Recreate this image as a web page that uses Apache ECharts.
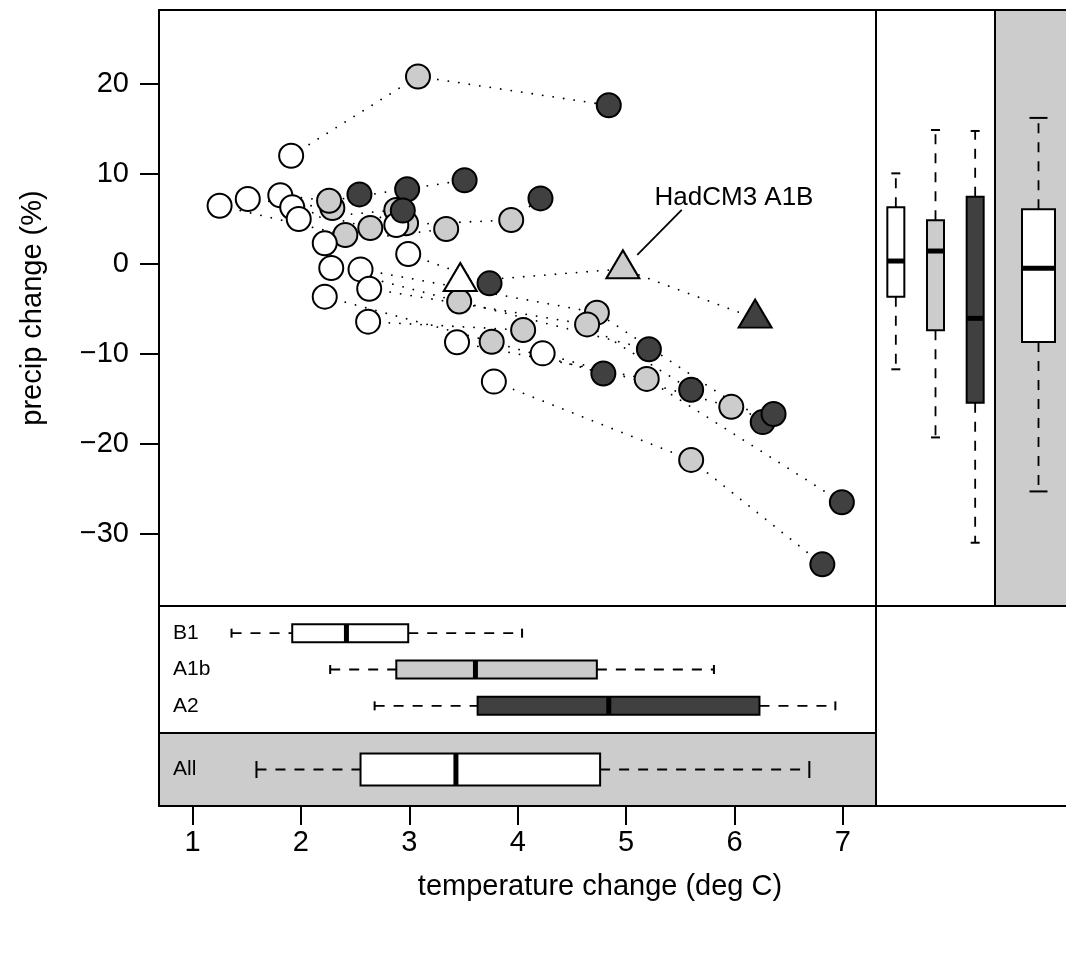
<!DOCTYPE html>
<html>
<head>
<meta charset="utf-8">
<script src="https://cdn.jsdelivr.net/npm/echarts@6/dist/echarts.min.js"></script>
<style>
html,body{margin:0;padding:0;background:#fff;}
#chart{width:1066px;height:962px;}
</style>
</head>
<body>
<div id="chart"></div>
<script>
// ---------- DATA ----------
// per-model values: B1 (white), A1B (grey), A2 (dark); null = not present
const b1Temp   = [1.91, 3.78, 2.88, 2.22, 2.99, 1.25, 1.51, 1.81, 1.92, 1.98, 2.28, 2.55, 2.63, 2.22, 2.62, 3.44, 4.23, null];
const b1Precip = [12.0,-13.1, 4.3, 2.27, 1.08, 6.44, 7.19, 7.6, 6.27, 4.97,-0.48,-0.63,-2.78,-3.66,-6.44,-8.73,-9.96, null];
const a1bTemp   = [3.08, 5.6, 3.94, 3.34, null, 2.41, 2.29, 2.26, 2.64, 2.88, 3.46, 4.73, 4.64, 3.76, 4.05, 5.19, 5.97, 2.97];
const a1bPrecip = [20.8,-21.8, 4.86, 3.86, null, 3.19, 6.19, 7.0, 3.97, 5.97,-4.2,-5.44,-6.74,-8.67,-7.37,-12.8,-15.9, 4.49];
const a2Temp   = [4.84, 6.81, 4.21, null, 3.74, null, 2.54, 3.51, 2.98, 2.94, 5.21, 6.26, 5.6, 4.79, null, 6.99, 6.36, null];
const a2Precip = [17.6,-33.4, 7.26, null,-2.18, null, 7.7, 9.27, 8.27, 5.9,-9.5,-17.6,-14.0,-12.2, null,-26.5,-16.7, null];

// HadCM3 (triangles): B1, A1B, A2
const hadcm3Temp   = [3.47, 4.97, 6.19];
const hadcm3Precip = [-2.0, -0.58, -6.07];
const hadcm3Label = 'HadCM3 A1B';
const labelPos = [5.995, 7.3];
const pointerLine = [[5.103, 0.97], [5.513, 5.97]];

// boxplot summaries [min, q1, median, q3, max]
const scenarioNames = ['B1', 'A1b', 'A2'];
const allName = 'All';
const tempBoxB1  = [1.36, 1.92, 2.42, 2.99, 4.04];
const tempBoxA1b = [2.27, 2.88, 3.61, 4.73, 5.81];
const tempBoxA2  = [2.68, 3.63, 4.84, 6.23, 6.93];
const tempBoxAll = [1.59, 2.55, 3.43, 4.76, 6.69];
const precipBoxB1  = [-11.73, -3.67, 0.3, 6.27, 10.04];
const precipBoxA1b = [-19.3, -7.4, 1.41, 4.82, 14.86];
const precipBoxA2  = [-31.0, -15.44, -6.07, 7.44, 14.75];
const precipBoxAll = [-25.3, -8.7, -0.51, 6.04, 16.2];

const xTicks = [1, 2, 3, 4, 5, 6, 7];
const yTicks = [-30, -20, -10, 0, 10, 20];
const xTitle = 'temperature change (deg C)';
const yTitle = 'precip change (%)';

// ---------- STYLE ----------
const FONT = '"Liberation Sans", Arial, Helvetica, sans-serif';
const WHITE = '#ffffff', GREY = '#cccccc', DARK = '#404040';
const scenFill = [WHITE, GREY, DARK];
const XMIN = 0.691, XMAX = 7.305, YMIN = -38.03, YMAX = 28.19;

const chart = echarts.init(document.getElementById('chart'), null, {renderer: 'canvas'});

function pts(xs, ys) {
  const out = [];
  for (let i = 0; i < xs.length; i++) if (xs[i] != null && ys[i] != null) out.push([xs[i], ys[i]]);
  return out;
}

const dotted = {color: '#000', width: 1.8, type: [0.1, 10.5], cap: 'round'};
const series = [];
// model trajectory lines
for (let i = 0; i < b1Temp.length; i++) {
  const d = pts([b1Temp[i], a1bTemp[i], a2Temp[i]], [b1Precip[i], a1bPrecip[i], a2Precip[i]]);
  if (d.length < 2) continue;
  series.push({type: 'line', xAxisIndex: 0, yAxisIndex: 0, data: d, symbol: 'none', silent: true, z: 2, lineStyle: dotted});
}
series.push({type: 'line', xAxisIndex: 0, yAxisIndex: 0, data: pts(hadcm3Temp, hadcm3Precip), symbol: 'none', silent: true, z: 2, lineStyle: dotted});

const circ = (data, fill, z) => ({type: 'scatter', xAxisIndex: 0, yAxisIndex: 0, data, symbol: 'circle', symbolSize: 24, z, silent: true,
  itemStyle: {color: fill, borderColor: '#000', borderWidth: 2, opacity: 1}});
series.push(circ(pts(a1bTemp, a1bPrecip), GREY, 3));
series.push(circ(pts(b1Temp, b1Precip), WHITE, 4));
series.push(circ(pts(a2Temp, a2Precip), DARK, 5));
series.push({type: 'scatter', xAxisIndex: 0, yAxisIndex: 0, data: pts(hadcm3Temp, hadcm3Precip), symbol: 'triangle',
  symbolSize: [33, 28], symbolOffset: [0, -4.7], z: 6, silent: true,
  itemStyle: {color: p => scenFill[p.dataIndex], borderColor: '#000', borderWidth: 2, opacity: 1}});
// annotation pointer + label
series.push({type: 'line', xAxisIndex: 0, yAxisIndex: 0, data: pointerLine, symbol: 'none', silent: true, z: 6,
  lineStyle: {color: '#000', width: 1.8}});
series.push({type: 'scatter', xAxisIndex: 0, yAxisIndex: 0, data: [labelPos], symbolSize: 0, silent: true, z: 6,
  itemStyle: {opacity: 1},
  label: {show: true, position: 'inside', formatter: hadcm3Label, fontFamily: FONT, fontSize: 26, color: '#000', opacity: 1}});

// box renderers
function vBox(boxW, capW) {
  return function (params, api) {
    const c = api.value(0);
    const v = [1, 2, 3, 4, 5].map(k => api.coord([c, api.value(k)]));
    const x = v[0][0];
    const fill = api.visual('color');
    const dash = {stroke: '#000', lineWidth: 1.8, lineDash: [10, 9]};
    const solid = {stroke: '#000', lineWidth: 2};
    return {type: 'group', children: [
      {type: 'line', shape: {x1: x, y1: v[3][1], x2: x, y2: v[4][1]}, style: dash},
      {type: 'line', shape: {x1: x, y1: v[1][1], x2: x, y2: v[0][1]}, style: dash},
      {type: 'line', shape: {x1: x - capW / 2, y1: v[4][1], x2: x + capW / 2, y2: v[4][1]}, style: solid},
      {type: 'line', shape: {x1: x - capW / 2, y1: v[0][1], x2: x + capW / 2, y2: v[0][1]}, style: solid},
      {type: 'rect', shape: {x: x - boxW / 2, y: v[3][1], width: boxW, height: v[1][1] - v[3][1]},
        style: {fill: fill, stroke: '#000', lineWidth: 2}},
      {type: 'line', shape: {x1: x - boxW / 2, y1: v[2][1], x2: x + boxW / 2, y2: v[2][1]}, style: {stroke: '#000', lineWidth: 5}}
    ]};
  };
}
function hBox(boxH, capH) {
  return function (params, api) {
    const c = api.value(0);
    const v = [1, 2, 3, 4, 5].map(k => api.coord([api.value(k), c]));
    const y = v[0][1];
    const fill = api.visual('color');
    const dash = {stroke: '#000', lineWidth: 1.8, lineDash: [10, 9]};
    const solid = {stroke: '#000', lineWidth: 2};
    return {type: 'group', children: [
      {type: 'line', shape: {x1: v[0][0], y1: y, x2: v[1][0], y2: y}, style: dash},
      {type: 'line', shape: {x1: v[3][0], y1: y, x2: v[4][0], y2: y}, style: dash},
      {type: 'line', shape: {x1: v[0][0], y1: y - capH / 2, x2: v[0][0], y2: y + capH / 2}, style: solid},
      {type: 'line', shape: {x1: v[4][0], y1: y - capH / 2, x2: v[4][0], y2: y + capH / 2}, style: solid},
      {type: 'rect', shape: {x: v[1][0], y: y - boxH / 2, width: v[3][0] - v[1][0], height: boxH},
        style: {fill: fill, stroke: '#000', lineWidth: 2}},
      {type: 'line', shape: {x1: v[2][0], y1: y - boxH / 2, x2: v[2][0], y2: y + boxH / 2}, style: {stroke: '#000', lineWidth: 5}}
    ]};
  };
}
const precipGroups = [precipBoxB1, precipBoxA1b, precipBoxA2];
const tempGroups = [tempBoxB1, tempBoxA1b, tempBoxA2];
series.push({type: 'custom', xAxisIndex: 1, yAxisIndex: 1, renderItem: vBox(17, 9), silent: true, z: 3,
  encode: {x: 0, y: [1, 2, 3, 4, 5]},
  data: precipGroups.map((b, i) => ({value: [i].concat(b), itemStyle: {color: scenFill[i]}}))});
series.push({type: 'custom', xAxisIndex: 2, yAxisIndex: 2, renderItem: vBox(33, 18), silent: true, z: 3,
  encode: {x: 0, y: [1, 2, 3, 4, 5]},
  data: [{value: [0].concat(precipBoxAll), itemStyle: {color: WHITE}}]});
series.push({type: 'custom', xAxisIndex: 3, yAxisIndex: 3, renderItem: hBox(18, 9), silent: true, z: 3,
  encode: {x: [1, 2, 3, 4, 5], y: 0},
  data: tempGroups.map((b, i) => ({value: [i].concat(b), itemStyle: {color: scenFill[i]}}))});
series.push({type: 'custom', xAxisIndex: 4, yAxisIndex: 4, renderItem: hBox(32, 17), silent: true, z: 3,
  encode: {x: [1, 2, 3, 4, 5], y: 0},
  data: [{value: [0].concat(tempBoxAll), itemStyle: {color: WHITE}}]});

const hidden = {axisLine: {show: false}, axisTick: {show: false}, axisLabel: {show: false}, splitLine: {show: false}};
const minus = v => String(v).replace('-', '\u2212');

const option = {
  animation: false,
  backgroundColor: '#fff',
  grid: [
    {left: 159, top: 10, width: 717, height: 596},
    {left: 876, top: 10, width: 119, height: 596},
    {left: 1011, top: 10, width: 55, height: 596},
    {left: 159, top: 615, width: 717, height: 109},
    {left: 159, top: 733, width: 717, height: 73}
  ],
  xAxis: [
    Object.assign({type: 'value', gridIndex: 0, min: XMIN, max: XMAX}, hidden),
    Object.assign({type: 'category', gridIndex: 1, data: scenarioNames}, hidden),
    Object.assign({type: 'category', gridIndex: 2, data: [allName]}, hidden),
    Object.assign({type: 'value', gridIndex: 3, min: XMIN, max: XMAX}, hidden),
    {type: 'value', gridIndex: 4, min: XMIN, max: XMAX, position: 'bottom',
      axisLine: {show: false}, splitLine: {show: false},
      axisTick: {show: true, customValues: xTicks, length: 19, lineStyle: {color: '#000', width: 2}},
      axisLabel: {show: true, customValues: xTicks, margin: 22, fontSize: 29, fontFamily: FONT, color: '#000'}}
  ],
  yAxis: [
    {type: 'value', gridIndex: 0, min: YMIN, max: YMAX,
      axisLine: {show: false}, splitLine: {show: false},
      axisTick: {show: true, customValues: yTicks, length: 19, lineStyle: {color: '#000', width: 2}},
      axisLabel: {show: true, customValues: yTicks, margin: 30, fontSize: 29, fontFamily: FONT, color: '#000', formatter: minus}},
    Object.assign({type: 'value', gridIndex: 1, min: YMIN, max: YMAX}, hidden),
    Object.assign({type: 'value', gridIndex: 2, min: YMIN, max: YMAX}, hidden),
    {type: 'category', gridIndex: 3, data: scenarioNames, inverse: true,
      axisLine: {show: false}, axisTick: {show: false}, splitLine: {show: false},
      axisLabel: {show: true, inside: true, margin: 14, fontSize: 21, fontFamily: FONT, color: '#000'}},
    {type: 'category', gridIndex: 4, data: [allName],
      axisLine: {show: false}, axisTick: {show: false}, splitLine: {show: false},
      axisLabel: {show: true, inside: true, margin: 14, fontSize: 21, fontFamily: FONT, color: '#000'}}
  ],
  graphic: [
    {type: 'rect', z: -5, shape: {x: 995, y: 10, width: 80, height: 596}, style: {fill: GREY}},
    {type: 'rect', z: -5, shape: {x: 159, y: 733, width: 717, height: 73}, style: {fill: GREY}},
    {type: 'rect', z: 50, shape: {x: 159, y: 10, width: 717, height: 596}, style: {fill: 'none', stroke: '#000', lineWidth: 2}},
    {type: 'rect', z: 50, shape: {x: 876, y: 10, width: 200, height: 596}, style: {fill: 'none', stroke: '#000', lineWidth: 2}},
    {type: 'line', z: 50, shape: {x1: 995, y1: 10, x2: 995, y2: 606}, style: {stroke: '#000', lineWidth: 2}},
    {type: 'rect', z: 50, shape: {x: 159, y: 606, width: 717, height: 200}, style: {fill: 'none', stroke: '#000', lineWidth: 2}},
    {type: 'line', z: 50, shape: {x1: 159, y1: 733, x2: 876, y2: 733}, style: {stroke: '#000', lineWidth: 2}},
    {type: 'rect', z: 50, shape: {x: 876, y: 606, width: 200, height: 200}, style: {fill: 'none', stroke: '#000', lineWidth: 2}},
    {type: 'text', z: 50, x: 600, y: 887, style: {text: xTitle, font: '29px ' + FONT, fill: '#000', textAlign: 'center', textVerticalAlign: 'middle'}},
    {type: 'text', z: 50, x: 33, y: 308, rotation: Math.PI / 2, style: {text: yTitle, font: '29px ' + FONT, fill: '#000', textAlign: 'center', textVerticalAlign: 'middle'}}
  ],
  series: series
};
chart.setOption(option);
</script>
</body>
</html>
